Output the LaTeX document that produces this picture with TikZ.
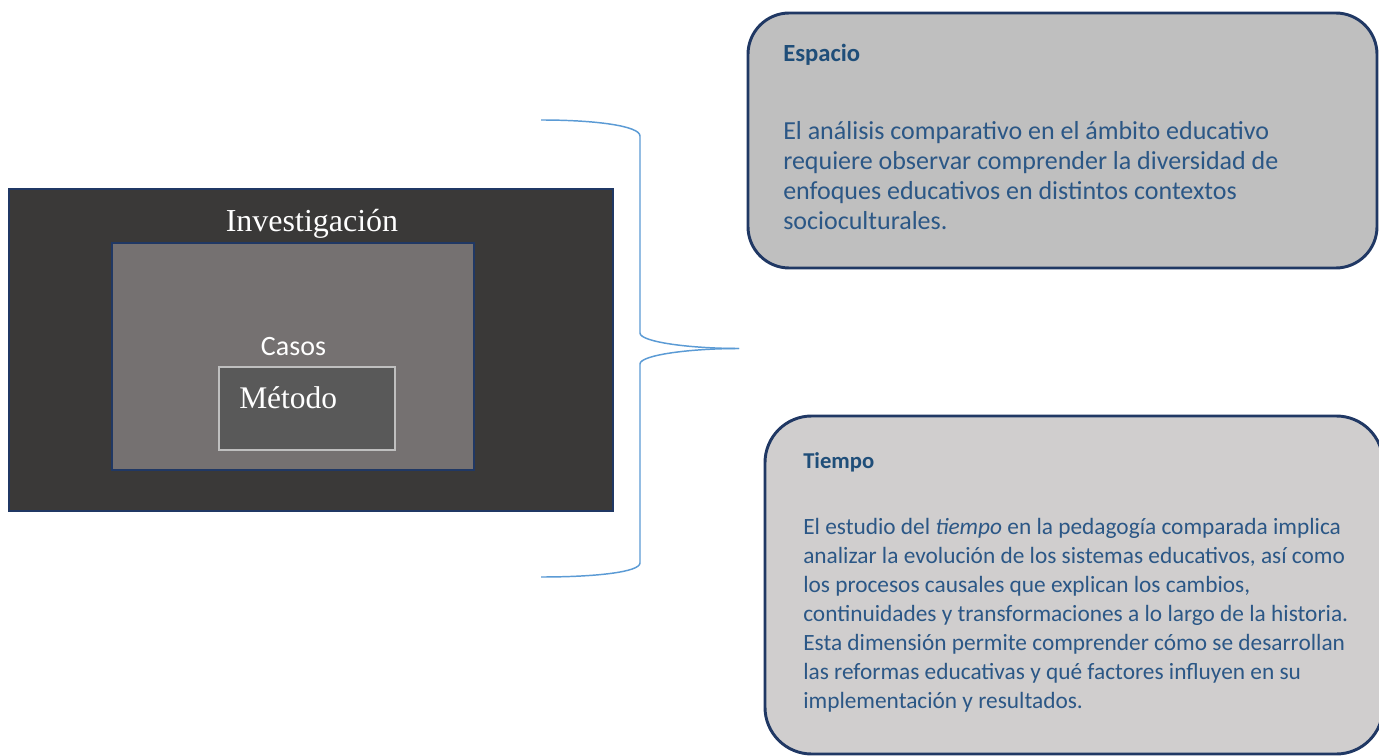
\documentclass[tikz,border=0pt]{standalone}
\usepackage{fontspec}
\usepackage{xcolor}
\setmainfont{Carlito}
\newfontfamily\timesfont{Liberation Serif}

\definecolor{invfill}{HTML}{3A3938}
\definecolor{casefill}{HTML}{757171}
\definecolor{methfill}{HTML}{595959}
\definecolor{methline}{HTML}{BFBFBF}
\definecolor{navyline}{HTML}{203864}
\definecolor{bracecol}{HTML}{5B9BD5}
\definecolor{espfill}{HTML}{BFBFBF}
\definecolor{tiefill}{HTML}{D0CECE}
\definecolor{headcol}{HTML}{1F4E79}
\definecolor{bodycol}{HTML}{2B5786}

\begin{document}
\begin{tikzpicture}[x=0.75pt, y=-0.75pt,
    boxline/.style={draw=navyline, line width=1.5pt},
    brace/.style={draw=bracecol, line width=1.1pt},
    infobox/.style={draw=navyline, line width=2.2pt},
    whitetext/.style={text=white, inner sep=0pt},
    headtext/.style={text=headcol, inner sep=0pt, anchor=base west},
    bodytext/.style={text=bodycol, inner sep=0pt, anchor=base west, text width=440pt, align=left}]

  % page size
  \useasboundingbox[fill=white] (0,0) rectangle (1379,756);

  % nested boxes on the left
  \filldraw[boxline, fill=invfill] (9,189) rectangle (613,511);
  \filldraw[boxline, fill=casefill] (112,243) rectangle (474,470);
  \filldraw[draw=methline, line width=2pt, fill=methfill] (219,367) rectangle (395,450);

  \node[whitetext, font=\timesfont\fontsize{24}{28}\selectfont, anchor=base] (inv) at (312,232) {Investigación};
  \node[whitetext, font=\fontsize{21}{25}\selectfont, anchor=base] (casos) at (293.5,355) {Casos};
  \node[whitetext, font=\timesfont\fontsize{23.6}{28}\selectfont, anchor=base west] (metodo) at (239,408) {Método};

  % the brace
  \coordinate (braceTop) at (541,120);
  \coordinate (braceTip) at (739,348.5);
  \coordinate (braceBot) at (541,577);
  \draw[brace] (braceTop) .. controls (596,120) and (640,126) .. (640,136)
    -- (640,333) .. controls (640,342) and (690,348.5) .. (braceTip);
  \draw[brace] (braceTip) .. controls (690,348.5) and (640,355) .. (640,364)
    -- (640,563) .. controls (640,572) and (596,577) .. (braceBot);

  % Espacio
  \filldraw[infobox, fill=espfill, rounded corners=31pt] (748,13) rectangle (1377,268);
  \node[headtext, font=\bfseries\fontsize{18.5}{22}\selectfont] (esphead) at (783,62) {Espacio};
  \node[bodytext, font=\fontsize{19.5}{22.5}\selectfont] (espbody) at (783,140)
    {\spaceskip=0pt\xspaceskip=0pt
     El análisis comparativo en el ámbito educativo\\
     requiere observar comprender la diversidad de\\
     enfoques educativos en distintos contextos\\
     socioculturales.};

  % Tiempo
  \filldraw[infobox, fill=tiefill, rounded corners=35pt] (765,416) rectangle (1383,754);
  \node[headtext, font=\bfseries\fontsize{17}{21}\selectfont] (tiehead) at (803,468) {Tiempo};
  \node[bodytext, font=\fontsize{17.5}{21.75}\selectfont] (tiebody) at (803,534)
    {\spaceskip=0pt\xspaceskip=0pt
     El estudio del \textit{tiempo} en la pedagogía comparada implica\\
     analizar la evolución de los sistemas educativos, así como\\
     los procesos causales que explican los cambios,\\
     continuidades y transformaciones a lo largo de la historia.\\
     Esta dimensión permite comprender cómo se desarrollan\\
     las reformas educativas y qué factores influyen en su\\
     implementación y resultados.};
\end{tikzpicture}
\end{document}
